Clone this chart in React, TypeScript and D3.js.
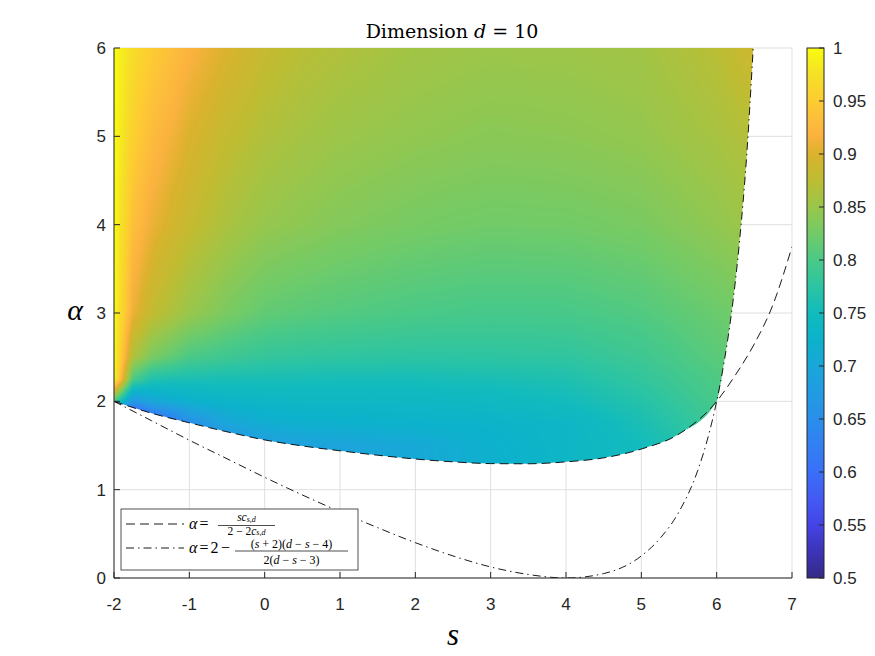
import React, { useMemo } from 'react';
import * as d3 from 'd3';

const W = 875;
const H = 656;
const box = { left: 114, top: 48, right: 792, bottom: 578 };
const cbBox = { left: 807, right: 824 };

const xTicks = [-2, -1, 0, 1, 2, 3, 4, 5, 6, 7];
const yTicks = [0, 1, 2, 3, 4, 5, 6];
const cbTicks = [0.5, 0.55, 0.6, 0.65, 0.7, 0.75, 0.8, 0.85, 0.9, 0.95, 1];
const cbLabels = ['0.5', '0.55', '0.6', '0.65', '0.7', '0.75', '0.8', '0.85', '0.9', '0.95', '1'];

// alpha = s c / (2 - 2c)   (dashed)
const dashS = [-2, -1.5, -1, -0.5, 0, 0.5, 1, 1.5, 2, 2.5, 3, 3.5, 4, 4.5, 5, 5.5, 6, 6.25, 6.5, 6.75, 7];
const dashA = [2, 1.865, 1.757, 1.655, 1.563, 1.495, 1.44, 1.39, 1.347, 1.315, 1.295, 1.293, 1.315, 1.36, 1.46, 1.63, 2.0, 2.3, 2.65, 3.1, 3.75];

// alpha = 2 - (s+2)(d-s-4) / (2(d-s-3))   (dash-dot)
const dotS = [-2, -1.5, -1, -0.5, 0, 0.5, 1, 1.5, 2, 2.5, 3, 3.5, 4, 4.5, 5, 5.25, 5.5, 5.75, 5.9, 6, 6.1, 6.2, 6.3, 6.4, 6.485];
const dotA = [2, 1.78, 1.56, 1.35, 1.14, 0.94, 0.75, 0.57, 0.4, 0.25, 0.125, 0.04, 0, 0.05, 0.25, 0.45, 0.75, 1.22, 1.64, 2, 2.45, 3.02, 3.78, 4.8, 6];

// colour field (rows = alpha, cols = s)
const gridS = [-2, -1.75, -1.5, -1.25, -1, -0.5, 0, 0.5, 1, 2, 3, 4, 5, 6, 6.5];
const gridA = [1.25, 1.5, 1.75, 2, 2.25, 2.5, 3, 4, 5, 6];
const gridV = [
  [0.45, 0.45, 0.56, 0.6, 0.62, 0.65, 0.68, 0.69, 0.695, 0.705, 0.72, 0.735, 0.75, 0.78, 0.79],
  [0.45, 0.45, 0.56, 0.6, 0.63, 0.65, 0.68, 0.69, 0.695, 0.705, 0.722, 0.735, 0.75, 0.78, 0.79],
  [0.45, 0.45, 0.56, 0.6, 0.65, 0.7, 0.715, 0.72, 0.722, 0.725, 0.728, 0.735, 0.758, 0.79, 0.8],
  [0.8, 0.67, 0.7, 0.712, 0.722, 0.73, 0.735, 0.737, 0.737, 0.738, 0.742, 0.75, 0.768, 0.798, 0.81],
  [1.0, 0.8, 0.765, 0.76, 0.758, 0.757, 0.756, 0.755, 0.754, 0.754, 0.757, 0.762, 0.78, 0.803, 0.815],
  [1.0, 0.865, 0.83, 0.815, 0.8, 0.79, 0.782, 0.779, 0.777, 0.775, 0.776, 0.778, 0.79, 0.81, 0.82],
  [1.0, 0.91, 0.88, 0.865, 0.85, 0.83, 0.815, 0.81, 0.806, 0.8, 0.797, 0.798, 0.805, 0.82, 0.83],
  [1.0, 0.935, 0.91, 0.895, 0.882, 0.862, 0.848, 0.842, 0.836, 0.828, 0.824, 0.825, 0.83, 0.845, 0.855],
  [1.0, 0.955, 0.93, 0.915, 0.9, 0.88, 0.866, 0.858, 0.852, 0.845, 0.84, 0.842, 0.847, 0.86, 0.87],
  [1.0, 0.97, 0.95, 0.935, 0.92, 0.9, 0.882, 0.872, 0.866, 0.856, 0.852, 0.853, 0.856, 0.873, 0.89],
];

// parula-like colormap
const cmapV = [0.5, 0.525, 0.55, 0.575, 0.6, 0.625, 0.65, 0.675, 0.7, 0.725, 0.75, 0.775, 0.8, 0.825, 0.85, 0.875, 0.9, 0.918, 0.935, 0.95, 0.975, 1];
const cmapC = ['#352a87', '#3d33b8', '#4444e6', '#435af2', '#3a6ff8', '#3180f2', '#2a8eea', '#229be2', '#1aa6d9', '#0cb2cb',
  '#12bbbd', '#2cc4a3', '#4ac987', '#72cb67', '#99c64b', '#bdbd33', '#dab22d', '#fbb23f', '#fdc03a', '#fdcc31', '#f5e027', '#f9fb0e'];

const ink = '#262626';
const tickFont = '"Liberation Sans", Arial, sans-serif';
const texFont = '"Liberation Serif", "Times New Roman", serif';

const x = d3.scaleLinear().domain([-2, 7]).range([box.left, box.right]);
const y = d3.scaleLinear().domain([0, 6]).range([box.bottom, box.top]);
const cbY = d3.scaleLinear().domain([0.5, 1]).range([box.bottom, box.top]);
const color = d3.scaleLinear<string>().domain(cmapV).range(cmapC).interpolate(d3.interpolateRgb).clamp(true);

function field(s: number, a: number) {
  const i = Math.max(0, Math.min(gridS.length - 2, d3.bisectRight(gridS, s) - 1));
  const j = Math.max(0, Math.min(gridA.length - 2, d3.bisectRight(gridA, a) - 1));
  const tx = Math.max(0, Math.min(1, (s - gridS[i]) / (gridS[i + 1] - gridS[i])));
  const ty = Math.max(0, Math.min(1, (a - gridA[j]) / (gridA[j + 1] - gridA[j])));
  const v0 = gridV[j][i] * (1 - tx) + gridV[j][i + 1] * tx;
  const v1 = gridV[j + 1][i] * (1 - tx) + gridV[j + 1][i + 1] * tx;
  return v0 * (1 - ty) + v1 * ty;
}

export default function App() {
  const heatUrl = useMemo(() => {
    const w = Math.round(box.right - box.left);
    const h = Math.round(box.bottom - box.top);
    const canvas = document.createElement('canvas');
    canvas.width = w;
    canvas.height = h;
    const ctx = canvas.getContext('2d');
    if (!ctx) return '';
    // lookup table for the colormap
    const lut = d3.range(512).map(k => d3.rgb(color(0.5 + (k / 511) * 0.5)));
    const img = ctx.createImageData(w, h);
    for (let jj = 0; jj < h; jj++) {
      const a = y.invert(box.top + jj + 0.5);
      for (let ii = 0; ii < w; ii++) {
        const s = x.invert(box.left + ii + 0.5);
        if (s > 6.7) break;
        const v = field(s, a);
        const k = Math.max(0, Math.min(511, Math.round(((v - 0.5) / 0.5) * 511)));
        const c = lut[k];
        const p = (jj * w + ii) * 4;
        img.data[p] = c.r;
        img.data[p + 1] = c.g;
        img.data[p + 2] = c.b;
        img.data[p + 3] = 255;
      }
    }
    ctx.putImageData(img, 0, 0);
    return canvas.toDataURL();
  }, []);

  const dashPts: [number, number][] = dashS.map((s, i) => [s, dashA[i]]);
  const dotPts: [number, number][] = dotS.map((s, i) => [s, dotA[i]]);
  const line = d3.line<[number, number]>().x(d => x(d[0])).y(d => y(d[1])).curve(d3.curveMonotoneX);

  const edge = [...dashPts.filter(d => d[0] <= 6), ...dotPts.filter(d => d[0] > 6)];
  const clipD = `${line(edge)}L${x(-2)},${y(6)}Z`;

  return (
    <div style={{ margin: '-8px' }}>
      <svg width={W} height={H} viewBox={`0 0 ${W} ${H}`} style={{ display: 'block', background: '#fff' }}>
        <defs>
          <clipPath id="region"><path d={clipD} /></clipPath>
          <clipPath id="plot"><rect x={box.left} y={box.top} width={box.right - box.left} height={box.bottom - box.top} /></clipPath>
          <linearGradient id="cbar" x1="0" x2="0" y1="1" y2="0">
            {cmapV.map((v, i) => (
              <stop key={i} offset={`${((v - 0.5) / 0.5) * 100}%`} stopColor={cmapC[i]} />
            ))}
          </linearGradient>
        </defs>

        {/* grid */}
        <g stroke="#dfdfdf" strokeWidth={1}>
          {xTicks.map(t => <line key={'gx' + t} x1={x(t)} x2={x(t)} y1={box.top} y2={box.bottom} />)}
          {yTicks.map(t => <line key={'gy' + t} x1={box.left} x2={box.right} y1={y(t)} y2={y(t)} />)}
        </g>

        {/* heat map */}
        <image href={heatUrl} x={box.left} y={box.top} width={box.right - box.left} height={box.bottom - box.top}
          preserveAspectRatio="none" clipPath="url(#region)" />

        {/* curves */}
        <g clipPath="url(#plot)" fill="none" stroke="#000" strokeWidth={0.9}>
          <path d={line(dashPts) || ''} strokeDasharray="9,5" />
          <path d={line(dotPts) || ''} strokeDasharray="8,4,1.5,4" />
        </g>

        {/* axes */}
        <g stroke={ink} strokeWidth={1}>
          <line x1={box.left} x2={box.left} y1={box.top} y2={box.bottom} />
          <line x1={box.left} x2={box.right} y1={box.bottom} y2={box.bottom} />
          {xTicks.map(t => <line key={'tx' + t} x1={x(t)} x2={x(t)} y1={box.bottom} y2={box.bottom - 6} />)}
          {yTicks.map(t => <line key={'ty' + t} x1={box.left} x2={box.left + 6} y1={y(t)} y2={y(t)} />)}
        </g>
        <g fill={ink} fontFamily={tickFont} fontSize={17}>
          {xTicks.map(t => (
            <text key={'lx' + t} x={x(t)} y={box.bottom + 32} textAnchor="middle">{String(t)}</text>
          ))}
          {yTicks.map(t => (
            <text key={'ly' + t} x={box.left - 8} y={y(t) + 6} textAnchor="end">{String(t)}</text>
          ))}
        </g>

        {/* axis labels and title */}
        <text x={75} y={320} textAnchor="middle" fontFamily={texFont} fontStyle="italic" fontSize={30} fill="#000">α</text>
        <text x={453} y={645} textAnchor="middle" fontFamily={texFont} fontStyle="italic" fontSize={31} fill="#000">s</text>
        <text x={452} y={38} textAnchor="middle" fontFamily='"DejaVu Serif", serif' fontSize={19} fill="#000">
          Dimension <tspan fontStyle="italic">d</tspan> = 10
        </text>

        {/* legend */}
        <g>
          <rect x={121} y={509} width={237} height={61} fill="#fff" stroke={ink} strokeWidth={0.8} />
          <line x1={126} x2={184} y1={524} y2={524} stroke="#000" strokeWidth={0.9} strokeDasharray="9,5" />
          <line x1={126} x2={184} y1={548} y2={548} stroke="#000" strokeWidth={0.9} strokeDasharray="8,4,1.5,4" />
          <g fontFamily={texFont} fill="#000">
            <text x={189} y={529} fontSize={16} fontStyle="italic">α</text>
            <text x={199.5} y={529} fontSize={16}>=</text>
            <text x={246.5} y={520.5} fontSize={11.5} textAnchor="middle">
              <tspan fontStyle="italic">sc</tspan><tspan fontStyle="italic" fontSize={8} dy={1.5}>s,d</tspan>
            </text>
            <line x1={218} x2={275} y1={525.5} y2={525.5} stroke="#000" strokeWidth={0.7} />
            <text x={246.5} y={534.5} fontSize={11.5} textAnchor="middle">
              2 − 2<tspan fontStyle="italic">c</tspan><tspan fontStyle="italic" fontSize={8} dy={0.5}>s,d</tspan>
            </text>

            <text x={189} y={553} fontSize={16} fontStyle="italic">α</text>
            <text x={199.5} y={553} fontSize={16}>=</text>
            <text x={210.5} y={553} fontSize={16}>2</text>
            <text x={221} y={553} fontSize={16}>−</text>
            <text x={291.5} y={548} fontSize={12} textAnchor="middle">
              (<tspan fontStyle="italic">s</tspan> + 2)(<tspan fontStyle="italic">d</tspan> − <tspan fontStyle="italic">s</tspan> − 4)
            </text>
            <line x1={235} x2={348} y1={551} y2={551} stroke="#000" strokeWidth={0.7} />
            <text x={291.5} y={564} fontSize={12} textAnchor="middle">
              2(<tspan fontStyle="italic">d</tspan> − <tspan fontStyle="italic">s</tspan> − 3)
            </text>
          </g>
        </g>

        {/* colorbar */}
        <rect x={cbBox.left} y={box.top} width={cbBox.right - cbBox.left} height={box.bottom - box.top} fill="url(#cbar)" stroke={ink} strokeWidth={1} />
        <g stroke={ink} strokeWidth={1}>
          {cbTicks.map(t => <line key={'ct' + t} x1={cbBox.right - 5} x2={cbBox.right} y1={cbY(t)} y2={cbY(t)} />)}
        </g>
        <g fill={ink} fontFamily={tickFont} fontSize={17}>
          {cbTicks.map((t, i) => (
            <text key={'cl' + t} x={cbBox.right + 9} y={cbY(t) + 6}>{cbLabels[i]}</text>
          ))}
        </g>
      </svg>
    </div>
  );
}
